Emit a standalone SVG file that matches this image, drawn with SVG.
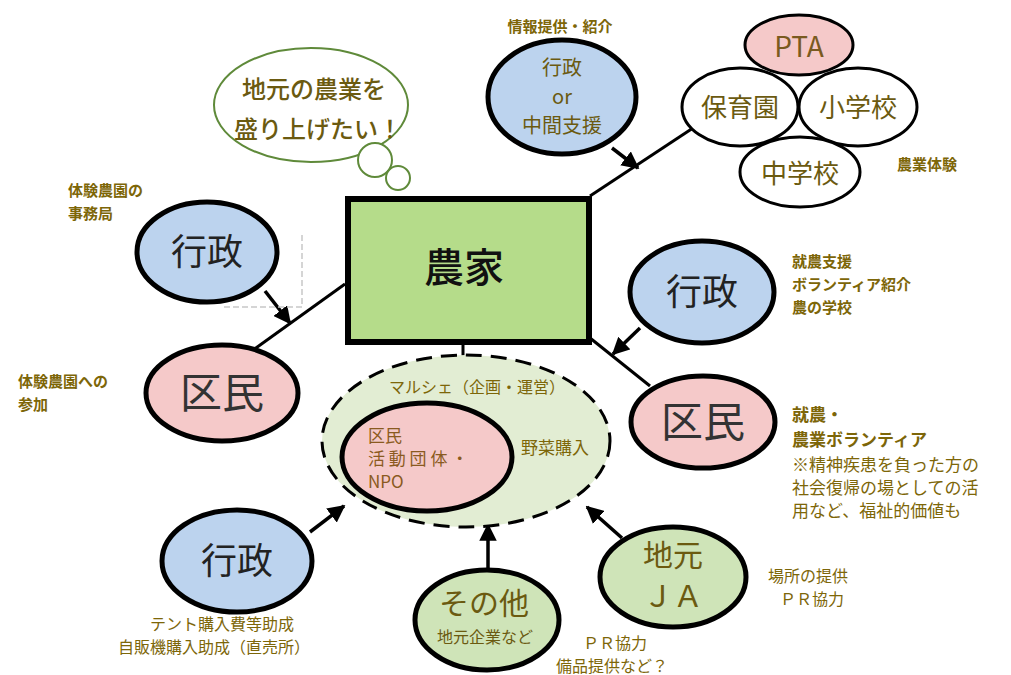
<svg xmlns="http://www.w3.org/2000/svg" width="1011" height="675" viewBox="0 0 1011 675">
<defs>
<marker id="ah" viewBox="0 0 10 10" refX="9" refY="5" markerWidth="5" markerHeight="5" orient="auto" markerUnits="strokeWidth">
<path d="M0,0 L10,5 L0,10 z" fill="#000"/>
</marker>
<style>
text{font-family:"Noto Sans CJK JP","Noto Sans",sans-serif;}
.node{stroke:#000;stroke-width:5;}
.thin{stroke:#000;stroke-width:3;}
.blue{fill:#bcd3ee;}
.pink{fill:#f5c9c9;}
.green{fill:#cfe4b8;}
.white{fill:#fff;}
.lbl{fill:#7d6608;font-size:15px;font-weight:700;}
.lblr{fill:#7d6608;font-size:17px;}
.olive{fill:#6b5a10;}
.dark{fill:#222;}
.conn{stroke:#000;stroke-width:3;fill:none;}
.arr{stroke:#000;stroke-width:3.5;fill:none;marker-end:url(#ah);}
</style>
</defs>
<rect width="1011" height="675" fill="#fff"/>

<g id="connectors">
<line class="conn" x1="590" y1="196" x2="693" y2="128"/>
<line class="conn" x1="345" y1="284" x2="253" y2="350"/>
<line class="conn" x1="590" y1="338" x2="650" y2="386"/>
<line class="conn" x1="463" y1="345" x2="463" y2="356"/>
<line class="arr" x1="612" y1="148" x2="638" y2="168"/>
<line class="arr" x1="265" y1="291" x2="290" y2="323"/>
<line class="arr" x1="640" y1="328" x2="613" y2="354"/>
<line class="arr" x1="310" y1="532" x2="344" y2="506"/>
<line class="arr" x1="488" y1="572" x2="488" y2="525"/>
<line class="arr" x1="622" y1="538" x2="587" y2="507"/>
</g>

<g id="artifact">
<polyline points="302,235 302,307 222,307" fill="none" stroke="#c8c8c8" stroke-width="1.5" stroke-dasharray="6 3"/>
</g>

<g id="bubble">
<ellipse cx="311" cy="105" rx="97" ry="57" fill="#fff" stroke="#5f8a3a" stroke-width="2"/>
<circle cx="375" cy="160" r="17" fill="#fff" stroke="#5f8a3a" stroke-width="2"/>
<circle cx="398" cy="178" r="12" fill="#fff" stroke="#5f8a3a" stroke-width="2"/>
<text x="314" y="98" font-size="24" font-weight="500" text-anchor="middle" class="olive">地元の農業を</text>
<text x="318" y="138" font-size="24" font-weight="500" text-anchor="middle" class="olive">盛り上げたい！</text>
</g>

<g id="farmer">
<rect x="348" y="199" width="241" height="143" fill="#b5dc8a" stroke="#000" stroke-width="6"/>
<text x="464" y="282" font-size="40" font-weight="500" text-anchor="middle" fill="#111">農家</text>
</g>

<g id="top-admin">
<text x="560" y="32" text-anchor="middle" class="lbl">情報提供・紹介</text>
<ellipse class="node blue" cx="562" cy="97" rx="74" ry="57"/>
<text x="562" y="75" font-size="20" text-anchor="middle" class="olive">行政</text>
<text x="562" y="104" font-size="20" text-anchor="middle" class="olive">or</text>
<text x="562" y="133" font-size="20" text-anchor="middle" class="olive">中間支援</text>
</g>

<g id="schools">
<ellipse class="thin pink" cx="799" cy="45" rx="54" ry="30"/>
<text x="799" y="57" font-size="28" text-anchor="middle" fill="#7a5a20">PTA</text>
<ellipse class="thin white" cx="740" cy="107" rx="58" ry="39"/>
<text x="740" y="117" font-size="26" text-anchor="middle" class="olive">保育園</text>
<ellipse class="thin white" cx="858" cy="107" rx="59" ry="39"/>
<text x="858" y="117" font-size="26" text-anchor="middle" class="olive">小学校</text>
<ellipse class="thin white" cx="800" cy="172" rx="60" ry="35"/>
<text x="800" y="183" font-size="26" text-anchor="middle" class="olive">中学校</text>
<text x="927" y="170" text-anchor="middle" class="lbl">農業体験</text>
</g>

<g id="left-admin">
<text x="68" y="196" class="lbl">体験農園の</text>
<text x="68" y="219" class="lbl">事務局</text>
<ellipse class="node blue" cx="207" cy="252" rx="70" ry="50"/>
<text x="207" y="265" font-size="36" text-anchor="middle" class="dark">行政</text>
</g>

<g id="left-citizen">
<text x="18" y="387" class="lbl">体験農園への</text>
<text x="18" y="410" class="lbl">参加</text>
<ellipse class="node pink" cx="222" cy="393" rx="76" ry="48"/>
<text x="222" y="408" font-size="42" text-anchor="middle" fill="#333">区民</text>
</g>

<g id="right-admin">
<ellipse class="node blue" cx="702" cy="292" rx="72" ry="51"/>
<text x="702" y="305" font-size="36" text-anchor="middle" class="dark">行政</text>
<text x="792" y="267" class="lbl">就農支援</text>
<text x="792" y="290" class="lbl">ボランティア紹介</text>
<text x="792" y="313" class="lbl">農の学校</text>
</g>

<g id="right-citizen">
<ellipse class="node pink" cx="703" cy="422" rx="72" ry="46"/>
<text x="703" y="437" font-size="42" text-anchor="middle" fill="#333">区民</text>
<text x="792" y="421" class="lblr" font-weight="700">就農・</text>
<text x="792" y="446" class="lblr" font-weight="700">農業ボランティア</text>
<text x="792" y="471" class="lblr">※精神疾患を負った方の</text>
<text x="792" y="494" class="lblr">社会復帰の場としての活</text>
<text x="792" y="517" class="lblr">用など、福祉的価値も</text>
</g>

<g id="marche">
<ellipse cx="466" cy="441" rx="144" ry="86" fill="#e2edd3" stroke="#000" stroke-width="3" stroke-dasharray="16 9"/>
<text x="477" y="393" font-size="16" text-anchor="middle" fill="#7d6608">マルシェ（企画・運営）</text>
<ellipse class="node pink" cx="427" cy="457" rx="85" ry="54"/>
<text x="368" y="442" font-size="17" fill="#8a5a20">区民</text>
<text x="368" y="465" font-size="17" fill="#8a5a20">活 動 団 体 ・</text>
<text x="368" y="488" font-size="17" fill="#8a5a20">NPO</text>
<text x="521" y="454" font-size="17" fill="#7d6608">野菜購入</text>
</g>

<g id="bottom-admin">
<ellipse class="node blue" cx="237" cy="561" rx="75" ry="51"/>
<text x="237" y="574" font-size="36" text-anchor="middle" class="dark">行政</text>
<text x="222" y="630" font-size="16" text-anchor="middle" fill="#7d6608">テント購入費等助成</text>
<text x="214" y="653" font-size="16" text-anchor="middle" fill="#7d6608">自販機購入助成（直売所）</text>
</g>

<g id="others">
<ellipse class="node green" cx="487" cy="620" rx="72" ry="50"/>
<text x="484" y="614" font-size="30" text-anchor="middle" class="olive">その他</text>
<text x="485" y="643" font-size="16" text-anchor="middle" class="olive">地元企業など</text>
<text x="615" y="649" font-size="16" text-anchor="middle" fill="#7d6608">ＰＲ協力</text>
<text x="612" y="672" font-size="16" text-anchor="middle" fill="#7d6608">備品提供など？</text>
</g>

<g id="ja">
<ellipse class="node green" cx="673" cy="577" rx="73" ry="50"/>
<text x="673" y="566" font-size="30" text-anchor="middle" class="olive">地元</text>
<text x="673" y="607" font-size="30" text-anchor="middle" class="olive">ＪＡ</text>
<text x="768" y="582" font-size="16" fill="#7d6608">場所の提供</text>
<text x="780" y="605" font-size="16" fill="#7d6608">ＰＲ協力</text>
</g>
</svg>
